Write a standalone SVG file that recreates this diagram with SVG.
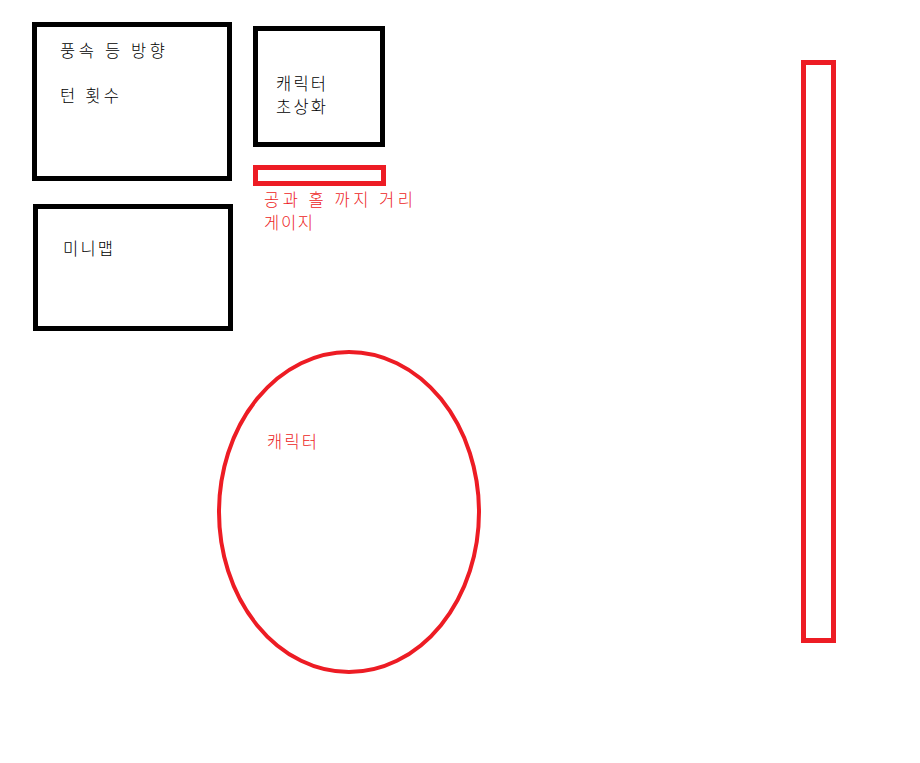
<svg xmlns="http://www.w3.org/2000/svg" width="920" height="763" viewBox="0 0 920 763">
<style>
.blk{fill:none;stroke:#000;stroke-width:5}
.red{fill:none;stroke:#ed1c24;stroke-width:5}
.t{font-family:"Noto Sans CJK KR","Noto Sans",sans-serif;font-size:16.5px;font-weight:300;fill:#000}
.tr{font-family:"Noto Sans CJK KR","Noto Sans",sans-serif;font-size:16.5px;font-weight:300;fill:#ed1c24}
</style>
<rect width="920" height="763" fill="#fff"/>
<g id="wind-panel">
<rect class="blk" x="34.5" y="24.5" width="195" height="154"/>
<text class="t" x="60" y="57" textLength="105">풍속 등 방향</text>
<text class="t" x="60" y="102" textLength="59">턴 횟수</text>
</g>
<g id="portrait">
<rect class="blk" x="255.5" y="28.5" width="127" height="116"/>
<text class="t" x="276" y="90" textLength="50">캐릭터</text>
<text class="t" x="276" y="113" textLength="50">초상화</text>
</g>
<g id="distance-gauge">
<rect class="red" x="255.5" y="167.5" width="128" height="16"/>
<text class="tr" x="264" y="206" textLength="149">공과 홀 까지 거리</text>
<text class="tr" x="264" y="229" textLength="49">게이지</text>
</g>
<g id="minimap">
<rect class="blk" x="35.5" y="206.5" width="195" height="122"/>
<text class="t" x="63" y="255" textLength="50">미니맵</text>
</g>
<g id="character">
<ellipse fill="none" stroke="#ed1c24" stroke-width="4" cx="349" cy="512" rx="130" ry="160"/>
<text class="tr" x="267" y="448" textLength="50">캐릭터</text>
</g>
<g id="power-bar">
<rect class="red" x="803.5" y="62.5" width="30" height="578"/>
</g>
<g id="connectors"/>
</svg>
